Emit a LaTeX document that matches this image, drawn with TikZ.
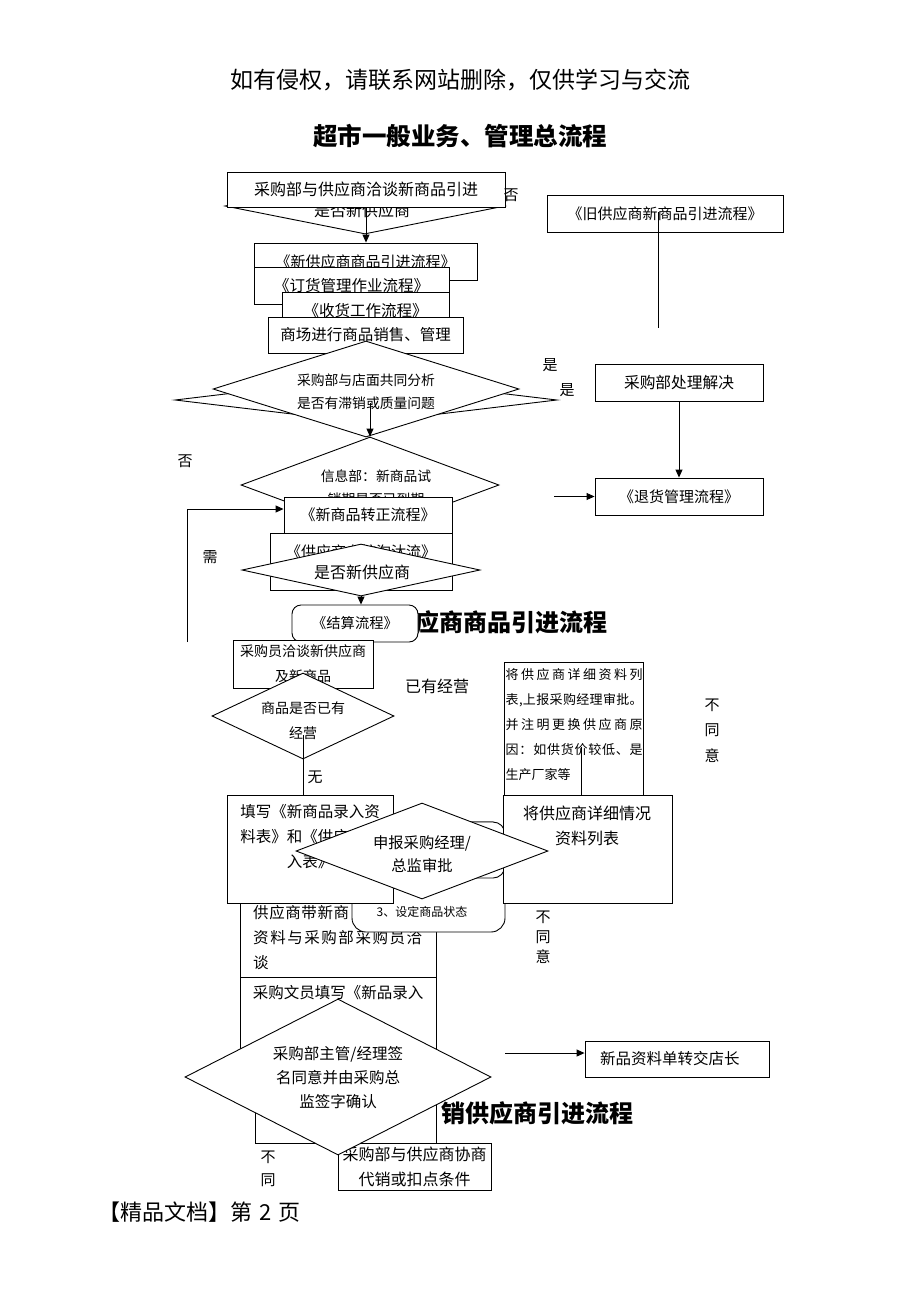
\documentclass[tikz,border=0pt]{standalone}
\usepackage{fontspec}
\setmainfont{Noto Sans CJK SC}
\usetikzlibrary{shapes.geometric,arrows.meta}
\newcommand\fz[2]{\fontsize{#1}{#2}\selectfont}
\makeatletter
\newcommand\spreadto[2]{\makebox[#1][s]{\let\sp@sep\relax\@tfor\sp@c:=#2\do{\sp@sep\sp@c\let\sp@sep\hfill}}}
\makeatother
\begin{document}
\begin{tikzpicture}[x=1pt,y=-1pt,
  box/.style={draw,line width=0.9pt,fill=white,rectangle,inner sep=0pt},
  rbox/.style={box,rounded corners=#1},
  dia/.style={draw,line width=0.9pt,fill=white,diamond,inner sep=0pt},
  txt/.style={inner sep=0pt,align=center},
  arr/.style={line width=0.9pt,-{Triangle[length=8pt,width=7pt]}},
  ln/.style={line width=0.9pt}]
\fill[white] (0,0) rectangle (920,1302);
\useasboundingbox (0,0) rectangle (920,1302);

% header and title
\node[txt,font=\fz{23}{27}] (hdr) at (460,80) {如有侵权，请联系网站删除，仅供学习与交流};
\node[txt,font=\fz{24.5}{28}\bfseries] (t1) at (460,136) {超市一般业务、管理总流程};

% top section
\node[dia,minimum width=280pt,minimum height=56pt] (d0) at (365,206) {};
\node[txt,font=\fz{16}{20}] (d0t) at (362,210) {是否新供应商};
\node[box,minimum width=278pt,minimum height=35pt,font=\fz{16}{20}] (A) at (366,189.5) {采购部与供应商洽谈新商品引进};
\node[txt,font=\fz{15}{20}] (no0) at (511,195) {否};
\node[box,minimum width=223pt,minimum height=37pt,font=\fz{15}{20}] (B) at (365.5,261.5) {《新供应商商品引进流程》};
\draw[arr] (A.south) -- (A.south |- B.north);
\node[box,minimum width=195pt,minimum height=37pt,font=\fz{15.5}{20}] (C) at (351.5,285.5) {《订货管理作业流程》};
\node[box,minimum width=167pt,minimum height=38pt,font=\fz{15.5}{20}] (D) at (365.5,311) {《收货工作流程》};
\node[box,minimum width=195pt,minimum height=36pt,font=\fz{15.5}{20}] (E) at (365.5,335) {商场进行商品销售、管理};

\node[dia,minimum width=382pt,minimum height=46pt] (d1) at (366,400) {};
\node[dia,minimum width=306pt,minimum height=96pt] (d2) at (366,389) {};
\node[txt,font=\fz{13.8}{23}] (d2t) at (366,391.5) {采购部与店面共同分析\\是否有滞销或质量问题};
\node[txt,font=\fz{15}{20}] (y1) at (550,365) {是};
\node[txt,font=\fz{15}{20}] (y2) at (567,390) {是};
\node[txt,font=\fz{15}{20}] (n1) at (185,461) {否};

\node[dia,minimum width=258pt,minimum height=96pt] (d3) at (370,485) {};
\coordinate (a2) at (370,403);
\draw[arr] (a2) -- (d3.north);
\node[txt,font=\fz{13.8}{20}] (d3t) at (376,476) {信息部：新商品试};
\node[txt,font=\fz{13.8}{20}] (d3u) at (376,499) {销期是否已到期};
\node[box,minimum width=168pt,minimum height=36pt,font=\fz{15}{20}] (H) at (368,515) {《新商品转正流程》};
\coordinate (lp) at (187,642);
\draw[arr] (lp) |- ([yshift=6pt]H.west);
\node[txt,font=\fz{15}{20}] (need) at (210,557) {需};
\node[box,minimum width=182pt,minimum height=57pt] (I) at (361,561.5) {};
\node[txt,font=\fz{15}{20}] (It) at (361,552) {《供应商考核淘汰流》};
\node[dia,minimum width=238pt,minimum height=52pt] (J) at (361,570) {};
\node[txt,font=\fz{16}{20}] (Jt) at (362,572) {是否新供应商};

% second title and settlement
\node[txt,anchor=east,font=\fz{24}{28}\bfseries] (t2) at (608,622) {应商商品引进流程};
\node[rbox=9pt,minimum width=126pt,minimum height=37pt,font=\fz{14.3}{20}] (K) at (355,623.5) {《结算流程》};
\draw[arr] (J.south) -- (J.south |- K.north);

% right column
\node[box,minimum width=236pt,minimum height=37pt,font=\fz{15}{20}] (old) at (665,213.5) {《旧供应商新商品引进流程》};
\coordinate (o1) at (658,212);
\coordinate (o2) at (658,328);
\draw[ln] (o1) -- (o2);
\node[box,minimum width=168pt,minimum height=37pt,font=\fz{15.7}{20}] (proc) at (679,382.5) {采购部处理解决};
\node[box,minimum width=168pt,minimum height=37pt,font=\fz{15}{20}] (ret) at (679,496.5) {《退货管理流程》};
\draw[arr] (proc.south) -- (ret.north);
\coordinate (ra) at (554,496.5);
\draw[arr] (ra) -- (ret.west);

% new supplier section
\node[box,minimum width=140pt,minimum height=48pt,txt,font=\fz{14}{25}] (L) at (303,664) {采购员洽谈新供应商\\及新商品};
\node[dia,minimum width=182pt,minimum height=86pt] (M) at (303,716) {};
\node[txt,font=\fz{14}{25}] (Mt) at (303,720.5) {商品是否已有\\经营};
\node[txt,font=\fz{15}{20}] (wu) at (315,777) {无};
\node[txt,font=\fz{16}{20}] (yy) at (437,686) {已有经营};

\node[box,minimum width=139pt,minimum height=133pt] (P) at (573.5,728.5) {};
\node[txt,anchor=west,font=\fz{13}{20}] (P1) at (505.5,675) {\spreadto{137pt}{将供应商详细资料列}};
\node[txt,anchor=west,font=\fz{13}{20}] (P2) at (505.5,700) {\spreadto{137pt}{表,上报采购经理审批。}};
\node[txt,anchor=west,font=\fz{13}{20}] (P3) at (505.5,725) {\spreadto{137pt}{并注明更换供应商原}};
\node[txt,anchor=west,font=\fz{13}{20}] (P4) at (505.5,750) {\spreadto{137pt}{因：如供货价较低、是}};
\node[txt,anchor=west,font=\fz{13}{20}] (P5) at (505.5,775) {生产厂家等};
\node[txt,font=\fz{15}{25.5}] (bty1) at (712,730.5) {不\\同\\意};

\node[box,minimum width=196pt,minimum height=117pt] (T) at (338,918.5) {};
\node[txt,anchor=west,font=\fz{15.5}{20}] (T1) at (253,913) {\spreadto{96pt}{供应商带新商}};
\node[txt,anchor=west,font=\fz{15.5}{20}] (T2) at (253,938) {\spreadto{169pt}{资料与采购部采购员洽}};
\node[txt,anchor=west,font=\fz{15.5}{20}] (T3) at (253,963) {谈};
\node[rbox=14pt,minimum width=153pt,minimum height=110pt] (R) at (428.5,877) {};
\node[txt,font=\fz{12}{16}] (Rt) at (422,912) {3、设定商品状态};
\node[rbox=12pt,minimum width=85pt,minimum height=56pt] (R2) at (462.5,850) {};
\node[box,minimum width=166pt,minimum height=108pt] (N) at (310,849) {};
\node[txt,font=\fz{15.5}{25}] (Nt) at (310,837) {填写《新商品录入资\\料表》和《供应商录\\入表》};
\coordinate (ml) at (303,735);
\draw[ln] (ml) -- (ml |- N.north);
\node[box,minimum width=169pt,minimum height=108pt] (Q) at (587.5,849) {};
\node[txt,font=\fz{16}{25}] (Qt) at (587,825.5) {将供应商详细情况\\资料列表};
\coordinate (pl) at (581,747);
\draw[ln] (pl) -- (pl |- Q.north);
\node[dia,minimum width=252pt,minimum height=96pt] (S) at (422,851) {};
\node[txt,font=\fz{15.3}{23}] (St) at (422,854.5) {申报采购经理/\\总监审批};
\node[txt,font=\fz{15}{20}] (bty2) at (543,937) {不\\同\\意};

% consignment section
\node[box,minimum width=196pt,minimum height=113pt] (U) at (338,1033.5) {};
\node[txt,font=\fz{15.5}{20}] (Ut) at (338,993) {采购文员填写《新品录入};
\node[txt,anchor=east,font=\fz{24}{28}\bfseries] (t3) at (634,1113) {销供应商引进流程};
\node[box,minimum width=181pt,minimum height=53pt] (V) at (345.5,1116.5) {};
\node[box,minimum width=153pt,minimum height=47pt,txt,font=\fz{16}{25}] (Y) at (414.5,1166.5) {采购部与供应商协商\\代销或扣点条件};
\node[dia,minimum width=306pt,minimum height=156pt] (W) at (338,1077) {};
\node[txt,font=\fz{15.5}{24}] (Wt) at (338,1078) {采购部主管/经理签\\名同意并由采购总\\监签字确认};
\node[txt,font=\fz{15}{23}] (bty3) at (268,1168.5) {不\\同};
\node[box,minimum width=184pt,minimum height=36pt] (X) at (677,1059) {};
\node[txt,anchor=west,font=\fz{15.5}{20}] (Xt) at (600,1059) {新品资料单转交店长};
\coordinate (xa) at (505,1053);
\draw[arr] (xa) -- ([yshift=6pt]X.west);

% footer
\node[txt,anchor=west,font=\fz{22}{26}] (ftr) at (98,1212) {【精品文档】第\hspace{7pt}2\hspace{7pt}页};
\end{tikzpicture}
\end{document}
